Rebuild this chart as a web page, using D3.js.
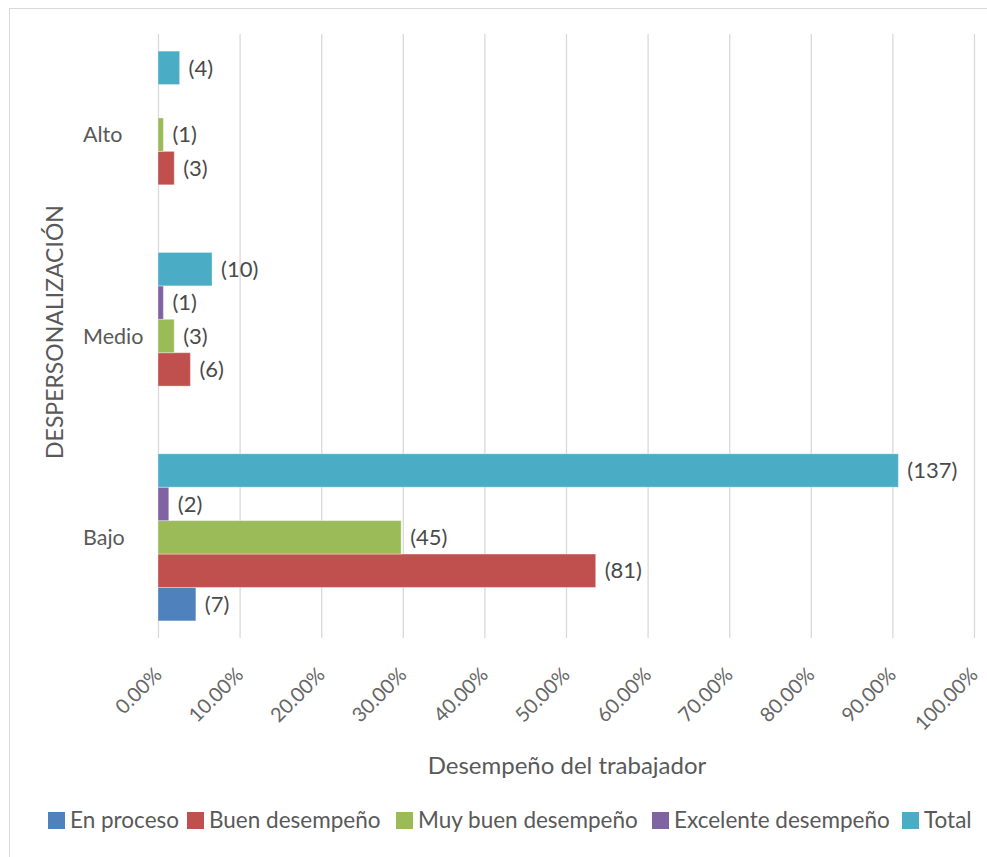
<!DOCTYPE html>
<html>
<head>
<meta charset="utf-8">
<script src="https://cdn.jsdelivr.net/npm/d3@7"></script>
<style>
  html, body { margin: 0; padding: 0; background: #fff; }
  svg { display: block; font-family: Lato, "Open Sans", sans-serif; }
</style>
</head>
<body>
<svg id="chart" width="987" height="857"></svg>
<script>
// ---- Data ----
const categories = ["Alto", "Medio", "Bajo"];
const seriesNames = ["En proceso", "Buen desempeño", "Muy buen desempeño", "Excelente desempeño", "Total"];
const seriesColors = ["#4F81BD", "#C0504D", "#9BBB59", "#8064A2", "#4BACC6"];
// percentage of workers (x value) per category, per series (null = no bar)
const pctEnProceso = [null, null, 4.64];
const pctBuen      = [1.99, 3.97, 53.64];
const pctMuyBuen   = [0.66, 1.99, 29.80];
const pctExcelente = [null, 0.66, 1.32];
const pctTotal     = [2.65, 6.62, 90.73];
// counts shown as labels
const cntEnProceso = [null, null, 7];
const cntBuen      = [3, 6, 81];
const cntMuyBuen   = [1, 3, 45];
const cntExcelente = [null, 1, 2];
const cntTotal     = [4, 10, 137];
const xTicks = [0, 10, 20, 30, 40, 50, 60, 70, 80, 90, 100];
const xTitle = "Desempeño del trabajador";
const yTitle = "DESPERSONALIZACIÓN";

const pctSeries = [pctEnProceso, pctBuen, pctMuyBuen, pctExcelente, pctTotal];
const cntSeries = [cntEnProceso, cntBuen, cntMuyBuen, cntExcelente, cntTotal];

// ---- Layout ----
const svg = d3.select("#chart");
const plot = { left: 158, right: 974, top: 34, bottom: 638 };

svg.append("rect")
  .attr("x", 9.5).attr("y", 8.5).attr("width", 1000).attr("height", 1000)
  .attr("fill", "#fff").attr("stroke", "#d9d9d9").attr("stroke-width", 1);

const x = d3.scaleLinear().domain([0, 100]).range([plot.left, plot.right]);
const y = d3.scaleBand().domain(categories).range([plot.top, plot.bottom]).paddingInner(0.17).paddingOuter(0.085);
// series drawn bottom-to-top within each band: En proceso at bottom, Total at top
const ySub = d3.scaleBand().domain(seriesNames.slice().reverse()).range([0, y.bandwidth()]);

// gridlines
svg.append("g").selectAll("line").data(xTicks).join("line")
  .attr("x1", d => x(d) + 0.5).attr("x2", d => x(d) + 0.5)
  .attr("y1", plot.top).attr("y2", plot.bottom)
  .attr("stroke", "#d9d9d9").attr("stroke-width", 1.3);

// bars
const rows = [];
seriesNames.forEach((s, si) => {
  categories.forEach((c, ci) => {
    const v = pctSeries[si][ci];
    if (v !== null) rows.push({ s, si, c, v, n: cntSeries[si][ci] });
  });
});

svg.append("g").selectAll("rect").data(rows).join("rect")
  .attr("x", x(0))
  .attr("y", d => y(d.c) + ySub(d.s))
  .attr("width", d => x(d.v) - x(0))
  .attr("height", ySub.bandwidth())
  .attr("fill", d => seriesColors[d.si])
  .attr("stroke", "#fff").attr("stroke-opacity", 0.35).attr("stroke-width", 1);

// value labels
svg.append("g").selectAll("text").data(rows).join("text")
  .attr("x", d => x(d.v) + 9)
  .attr("y", d => y(d.c) + ySub(d.s) + ySub.bandwidth() / 2)
  .attr("dy", "0.35em")
  .attr("font-size", 22)
  .attr("fill", "#4a4a4a")
  .text(d => "(" + d.n + ")");

// category labels (left aligned)
svg.append("g").selectAll("text").data(categories).join("text")
  .attr("x", 83)
  .attr("y", d => y(d) + y.bandwidth() / 2)
  .attr("dy", "0.35em")
  .attr("font-size", 21.5)
  .attr("fill", "#595959")
  .text(d => d);

// x tick labels rotated -45
svg.append("g").selectAll("text").data(xTicks).join("text")
  .attr("transform", d => `translate(${x(d) + 5},${676}) rotate(-45)`)
  .attr("text-anchor", "end")
  .attr("font-size", 20)
  .attr("fill", "#666666")
  .text(d => d.toFixed(2) + "%");

// axis titles
svg.append("text")
  .attr("x", 567).attr("y", 774)
  .attr("text-anchor", "middle")
  .attr("font-size", 24)
  .attr("fill", "#595959")
  .text(xTitle);

svg.append("text")
  .attr("transform", `translate(63,332) rotate(-90)`)
  .attr("text-anchor", "middle")
  .attr("font-size", 23)
  .attr("fill", "#595959")
  .text(yTitle);

// legend
const legendX = [48, 187, 396, 652, 902];
const lg = svg.append("g").selectAll("g").data(seriesNames).join("g")
  .attr("transform", (d, i) => `translate(${legendX[i]},${812})`);
lg.append("rect").attr("width", 17).attr("height", 17).attr("fill", (d, i) => seriesColors[i]);
lg.append("text").attr("x", 22).attr("y", 8.5).attr("dy", "0.35em")
  .attr("font-size", 22.5).attr("fill", "#595959").text(d => d);
</script>
</body>
</html>
